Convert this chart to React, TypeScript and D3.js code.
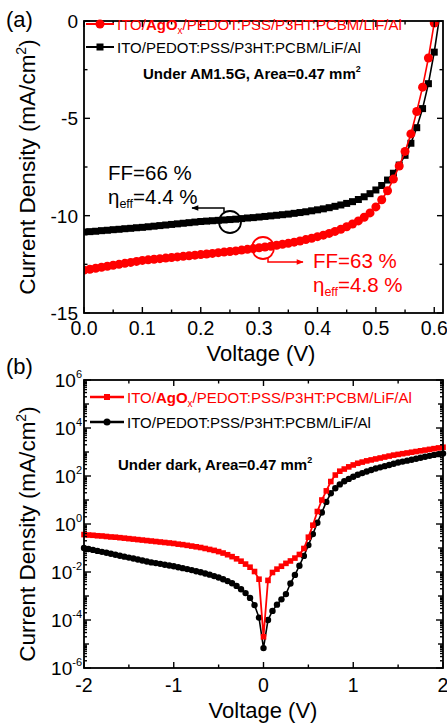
import React from "react";
import * as d3 from "d3";

const W = 447;
const H = 723;
const FONT = "'Liberation Sans', Arial, Helvetica, sans-serif";
const RED = "#ff0000";

// ---------- Panel (a): J-V under AM1.5G ----------
const jvVoltage = [
  0.0, 0.01, 0.02, 0.03, 0.04, 0.05, 0.06, 0.07, 0.08, 0.09,
  0.1, 0.11, 0.12, 0.13, 0.14, 0.15, 0.16, 0.17, 0.18, 0.19,
  0.2, 0.21, 0.22, 0.23, 0.24, 0.25, 0.26, 0.27, 0.28, 0.29,
  0.3, 0.31, 0.32, 0.33, 0.34, 0.35, 0.36, 0.37, 0.38, 0.39,
  0.4, 0.41, 0.42, 0.43, 0.44, 0.45, 0.46, 0.47, 0.48, 0.49,
  0.5, 0.51, 0.52, 0.53, 0.54, 0.55, 0.56, 0.57, 0.58, 0.59,
  0.6, 0.61,
];
// ITO/PEDOT:PSS/P3HT:PCBM/LiF/Al (black squares)
const jvRef = [
  -10.84, -10.82, -10.8, -10.77, -10.75, -10.72, -10.7, -10.67, -10.65, -10.62,
  -10.6, -10.57, -10.54, -10.51, -10.48, -10.45, -10.42, -10.39, -10.36, -10.33,
  -10.3, -10.28, -10.26, -10.24, -10.22, -10.2, -10.18, -10.15, -10.12, -10.1,
  -10.07, -10.04, -10.01, -9.98, -9.95, -9.92, -9.88, -9.84, -9.8, -9.75,
  -9.7, -9.65, -9.59, -9.52, -9.45, -9.37, -9.28, -9.17, -9.03, -8.87,
  -8.68, -8.45, -8.17, -7.82, -7.4, -6.9, -6.28, -5.48, -4.5, -3.22,
  -1.6, 0.4,
];
// ITO/AgOx/PEDOT:PSS/P3HT:PCBM/LiF/Al (red circles)
const jvAgOx = [
  -12.8, -12.75, -12.7, -12.65, -12.6, -12.55, -12.5, -12.45, -12.4, -12.35,
  -12.3, -12.27, -12.24, -12.21, -12.18, -12.15, -12.12, -12.09, -12.06, -12.03,
  -12.0, -11.97, -11.94, -11.9, -11.87, -11.84, -11.81, -11.77, -11.73, -11.69,
  -11.65, -11.61, -11.57, -11.52, -11.47, -11.42, -11.36, -11.3, -11.23, -11.16,
  -11.08, -11.0, -10.91, -10.81, -10.7, -10.57, -10.43, -10.27, -10.08, -9.86,
  -9.55, -9.18, -8.72, -8.12, -7.45, -6.7, -5.8, -4.65, -3.4, -1.9,
  -0.1,
];
const topXTicks = [0, 0.1, 0.2, 0.3, 0.4, 0.5, 0.6];
const topXLabels = ["0.0", "0.1", "0.2", "0.3", "0.4", "0.5", "0.6"];
const topYTicks = [0, -5, -10, -15];

// ---------- Panel (b): dark J-V (log10 of |J| in mA/cm2) ----------
const darkVoltage = [
  -2.0, -1.95, -1.9, -1.85, -1.8, -1.75, -1.7, -1.65, -1.6, -1.55,
  -1.5, -1.45, -1.4, -1.35, -1.3, -1.25, -1.2, -1.15, -1.1, -1.05,
  -1.0, -0.95, -0.9, -0.85, -0.8, -0.75, -0.7, -0.65, -0.6, -0.55,
  -0.5, -0.45, -0.4, -0.35, -0.3, -0.25, -0.2, -0.15, -0.1, -0.05,
  0.0,
  0.05, 0.1, 0.15, 0.2, 0.25, 0.3, 0.35, 0.4, 0.45, 0.5,
  0.55, 0.6, 0.65, 0.7, 0.75, 0.8, 0.85, 0.9, 0.95, 1.0,
  1.05, 1.1, 1.15, 1.2, 1.25, 1.3, 1.35, 1.4, 1.45, 1.5,
  1.55, 1.6, 1.65, 1.7, 1.75, 1.8, 1.85, 1.9, 1.95, 2.0,
];
const darkAgOxLogJ = [
  -0.44, -0.46, -0.47, -0.49, -0.5, -0.52, -0.54, -0.55, -0.57, -0.59,
  -0.61, -0.63, -0.65, -0.67, -0.69, -0.71, -0.73, -0.75, -0.77, -0.79,
  -0.81, -0.84, -0.86, -0.89, -0.92, -0.95, -0.98, -1.02, -1.06, -1.1,
  -1.15, -1.21, -1.28, -1.36, -1.45, -1.55, -1.67, -1.8, -1.98, -2.3,
  -4.7,
  -2.35, -2.02, -1.88, -1.76, -1.64, -1.54, -1.42, -1.27, -1.02, -0.55,
  -0.05, 0.52, 1.0, 1.38, 1.77, 2.04, 2.2, 2.29, 2.38, 2.46,
  2.53, 2.58, 2.63, 2.67, 2.71, 2.75, 2.79, 2.83, 2.87, 2.9,
  2.93, 2.96, 2.99, 3.02, 3.05, 3.08, 3.11, 3.14, 3.17, 3.2,
];
const darkRefLogJ = [
  -1.0, -1.04, -1.08, -1.12, -1.16, -1.2, -1.24, -1.28, -1.32, -1.36,
  -1.4, -1.44, -1.48, -1.52, -1.56, -1.6, -1.63, -1.66, -1.7, -1.73,
  -1.76, -1.8, -1.84, -1.88, -1.92, -1.97, -2.01, -2.06, -2.11, -2.17,
  -2.23, -2.3, -2.38, -2.47, -2.58, -2.72, -2.88, -3.08, -3.38, -3.9,
  -5.17,
  -4.0, -3.62, -3.36, -3.14, -2.92, -2.48, -2.12, -1.74, -1.33, -0.88,
  -0.42, 0.05, 0.48, 0.92, 1.28, 1.49, 1.65, 1.78, 1.88, 1.97,
  2.05, 2.12, 2.19, 2.25, 2.31, 2.36, 2.41, 2.46, 2.51, 2.56,
  2.6, 2.64, 2.68, 2.72, 2.76, 2.8, 2.84, 2.88, 2.91, 2.94,
];
const botXTicks = [-2, -1, 0, 1, 2];
const botYExponents = [-6, -4, -2, 0, 2, 4, 6];

// ---------- layout ----------
const topBox = { x0: 84, x1: 443, y0: 21, y1: 313 };
const botBox = { x0: 84, x1: 443, y0: 380, y1: 668 };

export default function App() {
  const xT = d3.scaleLinear().domain([0, 0.615]).range([topBox.x0, topBox.x1]);
  const yT = d3.scaleLinear().domain([-15, 0]).range([topBox.y1, topBox.y0]);
  const xB = d3.scaleLinear().domain([-2, 2]).range([botBox.x0, botBox.x1]);
  const yB = d3.scaleLog().domain([1e-6, 1e6]).range([botBox.y1, botBox.y0]);

  const refPts = jvRef.map((j, i) => [jvVoltage[i], j] as [number, number]);
  const agPts = jvAgOx.map((j, i) => [jvVoltage[i], j] as [number, number]);
  const lineT = d3
    .line<[number, number]>()
    .x((d) => xT(d[0]))
    .y((d) => yT(d[1]));

  const darkAg = darkAgOxLogJ.map((l, i) => [darkVoltage[i], Math.pow(10, l)] as [number, number]);
  const darkRef = darkRefLogJ.map((l, i) => [darkVoltage[i], Math.pow(10, l)] as [number, number]);
  const lineB = d3
    .line<[number, number]>()
    .x((d) => xB(d[0]))
    .y((d) => yB(d[1]));

  // tick helpers
  const topXMinor = d3.range(0.05, 0.61, 0.1);
  const topYMinor = [-2.5, -7.5, -12.5];
  const botXMinor = [-1.5, -0.5, 0.5, 1.5];
  const botYOdd = [-5, -3, -1, 1, 3, 5].map((e) => Math.pow(10, e));
  const botYMinor: number[] = [];
  for (let e = -6; e < 6; e++) for (let m = 2; m <= 9; m++) botYMinor.push(m * Math.pow(10, e));

  const tk = { stroke: "#000", strokeWidth: 1.4 };
  const MAJ = 6;
  const MIN = 3.5;

  const xTicks = (vals: number[], sx: (v: number) => number, box: any, len: number, key: string) =>
    vals.map((v, i) => (
      <g key={key + i}>
        <line x1={sx(v)} x2={sx(v)} y1={box.y1} y2={box.y1 - len} {...tk} />
        <line x1={sx(v)} x2={sx(v)} y1={box.y0} y2={box.y0 + len} {...tk} />
      </g>
    ));
  const yTicks = (vals: number[], sy: (v: number) => number, box: any, len: number, key: string) =>
    vals.map((v, i) => (
      <g key={key + i}>
        <line x1={box.x0} x2={box.x0 + len} y1={sy(v)} y2={sy(v)} {...tk} />
        <line x1={box.x1} x2={box.x1 - len} y1={sy(v)} y2={sy(v)} {...tk} />
      </g>
    ));

  return (
    <svg
      width={W}
      height={H}
      viewBox={`0 0 ${W} ${H}`}
      style={{ position: "absolute", left: 0, top: 0, background: "#fff" }}
      fontFamily={FONT}
    >
      <defs>
        <clipPath id="clipTop">
          <rect x={topBox.x0} y={topBox.y0} width={topBox.x1 - topBox.x0} height={topBox.y1 - topBox.y0} />
        </clipPath>
        <marker id="arrBlack" viewBox="0 0 10 10" refX="9" refY="5" markerWidth="9" markerHeight="7" orient="auto" markerUnits="userSpaceOnUse">
          <path d="M0,1 L10,5 L0,9 Z" fill="#000" />
        </marker>
        <marker id="arrRed" viewBox="0 0 10 10" refX="9" refY="5" markerWidth="9" markerHeight="7" orient="auto" markerUnits="userSpaceOnUse">
          <path d="M0,1 L10,5 L0,9 Z" fill={RED} />
        </marker>
      </defs>

      {/* ================= Panel (a) ================= */}
      <text x={6} y={27} fontSize={22}>(a)</text>
      <g clipPath="url(#clipTop)">
        <path d={lineT(refPts) || ""} fill="none" stroke="#000" strokeWidth={1.6} />
        {refPts.map((d, i) => (
          <rect key={"rs" + i} x={xT(d[0]) - 3.5} y={yT(d[1]) - 3.5} width={7} height={7} fill="#000" />
        ))}
        <path d={lineT(agPts) || ""} fill="none" stroke={RED} strokeWidth={1.6} />
        {agPts.map((d, i) => (
          <circle key={"ac" + i} cx={xT(d[0])} cy={yT(d[1])} r={4.5} fill={RED} />
        ))}
      </g>
      <rect x={topBox.x0} y={topBox.y0} width={topBox.x1 - topBox.x0} height={topBox.y1 - topBox.y0} fill="none" stroke="#000" strokeWidth={1.8} />
      {xTicks(topXTicks, xT, topBox, MAJ, "txM")}
      {xTicks(topXMinor, xT, topBox, MIN, "txm")}
      {yTicks(topYTicks, yT, topBox, MAJ, "tyM")}
      {yTicks(topYMinor, yT, topBox, MIN, "tym")}
      {topXTicks.map((v, i) => (
        <text key={"txl" + i} x={xT(v)} y={335} fontSize={19.5} textAnchor="middle">{topXLabels[i]}</text>
      ))}
      {topYTicks.map((v, i) => (
        <text key={"tyl" + i} x={78} y={yT(v) + 7} fontSize={19} textAnchor="end">{String(v)}</text>
      ))}
      <text x={261} y={361} fontSize={22} textAnchor="middle">Voltage (V)</text>
      <text transform={`translate(35,${(topBox.y0 + topBox.y1) / 2}) rotate(-90)`} fontSize={22.5} textAnchor="middle">
        Current Density (mA/cm<tspan dy={-9} fontSize={14}>2</tspan><tspan dy={9}>)</tspan>
      </text>

      {/* legend (a) */}
      <line x1={86} x2={114} y1={24} y2={24} stroke={RED} strokeWidth={2} />
      <circle cx={100} cy={24} r={4.5} fill={RED} />
      <text x={117} y={29.5} fontSize={15} fill={RED}>
        ITO/<tspan fontWeight="bold">AgO</tspan><tspan fontSize={10} dy={4}>x</tspan><tspan dy={-4}>/PEDOT:PSS/P3HT:PCBM/LiF/Al</tspan>
      </text>
      <line x1={86} x2={114} y1={47} y2={47} stroke="#000" strokeWidth={2} />
      <rect x={96.5} y={43.5} width={7} height={7} fill="#000" />
      <text x={117} y={52.5} fontSize={15}>ITO/PEDOT:PSS/P3HT:PCBM/LiF/Al</text>
      <text x={143} y={79} fontSize={15} fontWeight="bold">
        Under AM1.5G, Area=0.47 mm<tspan dy={-7} fontSize={9}>2</tspan>
      </text>

      {/* annotations (a) */}
      <text x={108} y={180} fontSize={20.5}>FF=66 %</text>
      <text x={108} y={204} fontSize={20.5}>
        η<tspan fontSize={12.5} dy={4}>eff</tspan><tspan dy={-4}>=4.4 %</tspan>
      </text>
      <circle cx={230} cy={222} r={11} fill="none" stroke="#000" strokeWidth={1.8} />
      <path d="M224,212 L224,208 L192,208" fill="none" stroke="#000" strokeWidth={1.5} markerEnd="url(#arrBlack)" />
      <circle cx={263} cy={248} r={11} fill="none" stroke={RED} strokeWidth={1.8} />
      <path d="M268,258 L268,262 L303,262" fill="none" stroke={RED} strokeWidth={1.5} markerEnd="url(#arrRed)" />
      <text x={313} y={268} fontSize={20.5} fill={RED}>FF=63 %</text>
      <text x={313} y={292} fontSize={20.5} fill={RED}>
        η<tspan fontSize={12.5} dy={4}>eff</tspan><tspan dy={-4}>=4.8 %</tspan>
      </text>

      {/* ================= Panel (b) ================= */}
      <text x={6} y={374} fontSize={22}>(b)</text>
      <path d={lineB(darkRef) || ""} fill="none" stroke="#000" strokeWidth={1.6} />
      {darkRef.map((d, i) => (
        <circle key={"dc" + i} cx={xB(d[0])} cy={yB(d[1])} r={3.2} fill="#000" />
      ))}
      <path d={lineB(darkAg) || ""} fill="none" stroke={RED} strokeWidth={1.8} />
      {darkAg.map((d, i) => (
        <rect key={"ds" + i} x={xB(d[0]) - 2.8} y={yB(d[1]) - 2.8} width={5.6} height={5.6} fill={RED} />
      ))}
      <rect x={botBox.x0} y={botBox.y0} width={botBox.x1 - botBox.x0} height={botBox.y1 - botBox.y0} fill="none" stroke="#000" strokeWidth={1.8} />
      {xTicks(botXTicks, xB, botBox, MAJ, "bxM")}
      {xTicks(botXMinor, xB, botBox, MIN, "bxm")}
      {yTicks(botYExponents.map((e) => Math.pow(10, e)), yB, botBox, 7, "byM")}
      {yTicks(botYOdd, yB, botBox, 5, "byO")}
      {yTicks(botYMinor, yB, botBox, 3, "bym")}
      {botXTicks.map((v, i) => (
        <text key={"bxl" + i} x={xB(v)} y={692} fontSize={19.5} textAnchor="middle">{String(v)}</text>
      ))}
      {botYExponents.map((e, i) => (
        <text key={"byl" + i} x={82} y={yB(Math.pow(10, e)) + 7} fontSize={19} textAnchor="end">
          10<tspan fontSize={11} dy={-9}>{String(e)}</tspan>
        </text>
      ))}
      <text x={263} y={718} fontSize={22} textAnchor="middle">Voltage (V)</text>
      <text transform={`translate(35,${(botBox.y0 + botBox.y1) / 2 + 10}) rotate(-90)`} fontSize={22.5} textAnchor="middle">
        Current Density (mA/cm<tspan dy={-9} fontSize={14}>2</tspan><tspan dy={9}>)</tspan>
      </text>

      {/* legend (b) */}
      <line x1={90} x2={124} y1={397} y2={397} stroke={RED} strokeWidth={2.5} />
      <rect x={104} y={394} width={6} height={6} fill={RED} />
      <text x={127} y={402.5} fontSize={15} fill={RED}>
        ITO/<tspan fontWeight="bold">AgO</tspan><tspan fontSize={10} dy={4}>x</tspan><tspan dy={-4}>/PEDOT:PSS/P3HT:PCBM/LiF/Al</tspan>
      </text>
      <line x1={90} x2={124} y1={422} y2={422} stroke="#000" strokeWidth={2.5} />
      <circle cx={107} cy={422} r={3.5} fill="#000" />
      <text x={127} y={427.5} fontSize={15}>ITO/PEDOT:PSS/P3HT:PCBM/LiF/Al</text>
      <text x={118} y={470} fontSize={15} fontWeight="bold">
        Under dark, Area=0.47 mm<tspan dy={-7} fontSize={9}>2</tspan>
      </text>
    </svg>
  );
}
